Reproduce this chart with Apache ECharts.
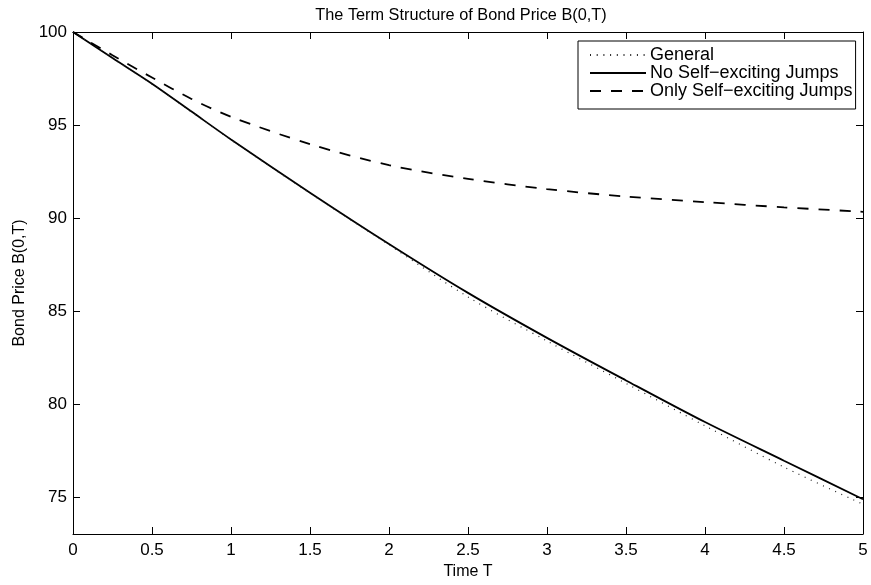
<!DOCTYPE html>
<html><head><meta charset="utf-8">
<script src="https://cdn.jsdelivr.net/npm/echarts@6/dist/echarts.min.js"></script>
<style>html,body{margin:0;padding:0;background:#fff}#c{width:871px;height:585px}</style>
</head><body><div id="c"></div>
<script>
const T = [0, 0.25, 0.5, 0.75, 1, 1.5, 2, 2.5, 3, 3.5, 4, 4.5, 5];
const general = [100, 98.6, 97.2, 95.7, 94.2, 91.33, 88.55, 85.75, 83.38, 81.1, 78.82, 76.6, 74.6];
const noSelf =  [100, 98.6, 97.22, 95.72, 94.22, 91.36, 88.6, 85.97, 83.55, 81.26, 79.02, 76.94, 74.87];
const onlySelf = [100, 98.75, 97.55, 96.4, 95.44, 93.97, 92.84, 92.1, 91.55, 91.15, 90.85, 90.57, 90.33];
const xTicks = [0, 0.5, 1, 1.5, 2, 2.5, 3, 3.5, 4, 4.5, 5];
const yTicks = [75, 80, 85, 90, 95, 100];
const names = ['General', 'No Self\u2212exciting Jumps', 'Only Self\u2212exciting Jumps'];

const font = 'Liberation Sans, Arial, sans-serif';
const toPairs = a => T.map((t, i) => [t, a[i]]);
const chart = echarts.init(document.getElementById('c'), null, {renderer: 'canvas'});
const axLine = {show: true, lineStyle: {color: '#000', width: 1}};
const tickIn = {show: true, inside: true, length: 7, lineStyle: {color: '#000', width: 1}};
chart.setOption({
  animation: false,
  backgroundColor: '#fff',
  title: {text: 'The Term Structure of Bond Price B(0,T)', left: 456, textAlign: 'center', top: 3,
    textStyle: {fontFamily: font, fontSize: 16.3, fontWeight: 'normal', color: '#000'}},
  grid: {left: 73, right: 8, top: 32, bottom: 51},
  legend: {
    orient: 'vertical', left: 578, top: 41,
    padding: [5, 3, 9, 11], itemGap: 0, itemWidth: 56, itemHeight: 14,
    backgroundColor: '#fff', borderColor: '#000', borderWidth: 1, borderRadius: 0,
    itemStyle: {opacity: 0},
    textStyle: {fontFamily: font, fontSize: 18, lineHeight: 17, color: '#000', padding: [0, 0, 0, -1]},
    data: names.map(n => ({name: n}))
  },
  xAxis: [
    {type: 'value', min: 0, max: 5, interval: 0.5, name: 'Time T', nameLocation: 'middle', nameGap: 29,
     nameTextStyle: {fontFamily: font, fontSize: 16, color: '#000'},
     axisLine: axLine, axisTick: tickIn, splitLine: {show: false},
     axisLabel: {fontFamily: font, fontSize: 17, color: '#000', margin: 8,
       formatter: v => xTicks.includes(v) ? String(v) : ''}},
    {type: 'value', position: 'top', min: 0, max: 5, interval: 0.5,
     axisLine: axLine, axisTick: tickIn, axisLabel: {show: false}, splitLine: {show: false}}
  ],
  yAxis: [
    {type: 'value', min: 73, max: 100, name: 'Bond Price B(0,T)', nameLocation: 'middle', nameGap: 45,
     nameTextStyle: {fontFamily: font, fontSize: 16, color: '#000'},
     axisLine: {show: true, onZero: false, lineStyle: {color: '#000', width: 1}}, splitLine: {show: false},
     axisTick: {show: true, inside: true, length: 7, customValues: yTicks, lineStyle: {color: '#000', width: 1}},
     axisLabel: {fontFamily: font, fontSize: 17, color: '#000', margin: 6, customValues: yTicks}},
    {type: 'value', position: 'right', min: 73, max: 100,
     axisLine: {show: true, onZero: false, lineStyle: {color: '#000', width: 1}}, splitLine: {show: false},
     axisTick: {show: true, inside: true, length: 7, customValues: yTicks, lineStyle: {color: '#000', width: 1}},
     axisLabel: {show: false, customValues: yTicks}}
  ],
  series: [
    {name: names[0], type: 'line', smooth: 0.3, symbol: 'none', data: toPairs(general), z: 3,
     lineStyle: {color: '#222', width: 1.2, type: [1, 5.7]}},
    {name: names[1], type: 'line', smooth: 0.3, symbol: 'none', data: toPairs(noSelf), z: 2,
     lineStyle: {color: '#000', width: 1.8, type: 'solid'}},
    {name: names[2], type: 'line', smooth: 0.3, symbol: 'none', data: toPairs(onlySelf), z: 2,
     lineStyle: {color: '#000', width: 1.8, type: [11, 10]}}
  ]
});
</script></body></html>
